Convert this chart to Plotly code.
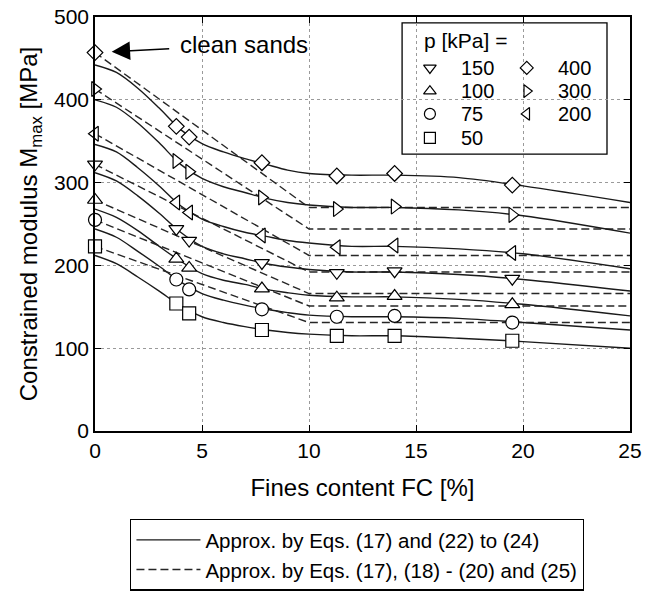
import plotly.graph_objects as go

# ---------------- data ----------------
FC_pts = [0, 3.8, 4.4, 7.8, 11.3, 14.0, 19.5]
M_400 = [457, 368, 355, 324, 308, 311, 297]
M_300 = [413, 326, 313, 282, 268, 271, 261]
M_200 = [359, 276, 264, 236, 222, 224, 215]
M_150 = [322, 244, 230, 203, 191, 193, 184]
M_100 = [279, 208, 197, 172, 161, 163, 153]
M_75 = [255, 183, 171, 147, 138, 139, 131]
M_50 = [223, 154, 142, 122, 115, 115, 109]

# solid approximation curves (Eqs. 17, 22-24)
FC_fit = [0, 1, 2, 3, 4, 5, 6, 7, 8, 9, 10, 12, 14, 17, 20, 25]
FIT_400 = [442, 433, 414, 390, 364, 347, 337, 329, 322, 315, 311, 309, 309, 306, 296, 276]
FIT_300 = [400, 391, 372, 348, 322, 305, 295, 288, 281, 276, 273, 270, 270, 267, 260, 239]
FIT_200 = [346, 337, 318, 296, 272, 256, 247, 240, 235, 230, 227, 223, 223, 220, 214, 196]
FIT_150 = [312, 302, 284, 263, 240, 223, 214, 208, 202, 198, 195, 192, 192, 189, 183, 169]
FIT_100 = [268, 258, 242, 223, 205, 190, 182, 177, 171, 167, 164, 162, 162, 159, 153, 139]
FIT_75 = [244, 234, 217, 199, 180, 166, 158, 152, 147, 143, 140, 138, 138, 136, 131, 122]
FIT_50 = [212, 202, 186, 169, 151, 138, 131, 126, 122, 119, 117, 115, 115, 112, 108, 100]

# dashed approximation lines (Eqs. 17, 18-20, 25)
FC_lin = [0, 10, 25]
LIN_400 = [457, 270, 270]
LIN_300 = [413, 244, 244]
LIN_200 = [359, 212, 212]
LIN_150 = [322, 192, 192]
LIN_100 = [279, 166, 166]
LIN_75 = [255, 151, 151]
LIN_50 = [223, 131, 131]

p_labels = ["150", "100", "75", "50", "400", "300", "200"]
symbols = ["triangle-down", "triangle-up", "circle", "square", "diamond", "triangle-right", "triangle-left"]
measured = [M_150, M_100, M_75, M_50, M_400, M_300, M_200]
fits = [FIT_150, FIT_100, FIT_75, FIT_50, FIT_400, FIT_300, FIT_200]
lins = [LIN_150, LIN_100, LIN_75, LIN_50, LIN_400, LIN_300, LIN_200]

legend_title = "p [kPa] ="
solid_name = "Approx. by Eqs. (17) and (22) to (24)"
dashed_name = "Approx. by Eqs. (17), (18) - (20) and (25)"

FONT = "Liberation Sans, Arial, sans-serif"
LINE_COL = "#1a1a1a"

fig = go.Figure()

for i, (f, l) in enumerate(zip(fits, lins)):
    fig.add_trace(go.Scatter(
        x=FC_lin, y=l, mode="lines", name=dashed_name,
        line=dict(color="#262626", width=1.4, dash="8px,4px"),
        showlegend=(i == 0), legendrank=2, hoverinfo="skip"))
    fig.add_trace(go.Scatter(
        x=FC_fit, y=f, mode="lines", name=solid_name,
        line=dict(color=LINE_COL, width=1.4, shape="spline", smoothing=0.9),
        showlegend=(i == 0), legendrank=1, hoverinfo="skip"))

for lab, sym, m in zip(p_labels, symbols, measured):
    size = 12 if sym == "diamond" else 13
    fig.add_trace(go.Scatter(
        x=FC_pts, y=m, mode="markers", name=lab, showlegend=False,
        cliponaxis=False,
        marker=dict(symbol=sym, size=size, color="white",
                    line=dict(color="black", width=1.2))))

# ---- inner legend for pressures (glyphs on an overlay axis in paper units) ----
leg_col_x = [0.626, 0.626, 0.626, 0.626, 0.807, 0.807, 0.807]
leg_row_y = [0.877, 0.821, 0.766, 0.708, 0.877, 0.821, 0.766]
for lab, sym, gx, gy in zip(p_labels, symbols, leg_col_x, leg_row_y):
    size = 10 if sym == "diamond" else 11
    fig.add_trace(go.Scatter(
        x=[gx], y=[gy], xaxis="x2", yaxis="y2", mode="markers",
        showlegend=False, hoverinfo="skip", cliponaxis=False,
        marker=dict(symbol=sym, size=size, color="white",
                    line=dict(color="black", width=1.2))))
    fig.add_annotation(x=gx + 0.055, y=gy, xref="paper", yref="paper",
                       text=lab, showarrow=False, xanchor="left", yanchor="middle",
                       font=dict(size=20, color="black", family=FONT))

fig.add_annotation(x=0.612, y=0.944, xref="paper", yref="paper", text=legend_title,
                   showarrow=False, xanchor="left", yanchor="middle",
                   font=dict(size=21, color="black", family=FONT))

fig.add_shape(type="rect", xref="paper", yref="paper", x0=0.574, x1=0.957,
              y0=0.669, y1=0.986, line=dict(color="black", width=1.3),
              fillcolor="white", layer="between")

# clean sands arrow + label
fig.add_annotation(x=0.78, y=458, xref="x", yref="y", text="clean sands",
                   showarrow=True, ax=132, ay=-7, arrowhead=2, arrowsize=2.3,
                   arrowwidth=1.6, arrowcolor="black", standoff=0,
                   startstandoff=9, borderpad=1,
                   font=dict(size=24, color="black", family=FONT))

axis_common = dict(
    showline=True, linecolor="black", linewidth=1.5, mirror="ticks",
    ticks="inside", ticklen=6, tickwidth=1.2, tickcolor="black",
    showgrid=True, gridcolor="#9a9a9a", gridwidth=1, griddash="dot",
    zeroline=False, tickfont=dict(size=21, color="black", family=FONT),
)

fig.update_layout(
    width=663, height=594,
    margin=dict(l=95, r=33, t=17, b=163, autoexpand=False),
    paper_bgcolor="white", plot_bgcolor="white",
    font=dict(family=FONT, color="black"),
    xaxis=dict(range=[0, 25], dtick=5, tick0=0,
               title=dict(text="Fines content FC [%]", font=dict(size=24), standoff=18),
               **axis_common),
    yaxis=dict(range=[0, 500], dtick=100, tick0=0,
               title=dict(text="Constrained modulus M<sub>max</sub> [MPa]", font=dict(size=24), standoff=10),
               **axis_common),
    xaxis2=dict(overlaying="x", range=[0, 1], visible=False, anchor="y2"),
    yaxis2=dict(overlaying="y", range=[0, 1], visible=False, anchor="x2"),
    legend=dict(x=0.49, xanchor="center", y=-0.212, yanchor="top",
                bordercolor="black", borderwidth=1.3, bgcolor="white",
                font=dict(size=20.5, color="black", family=FONT),
                itemwidth=64, tracegroupgap=0),
)

fig.write_html("out.html")
